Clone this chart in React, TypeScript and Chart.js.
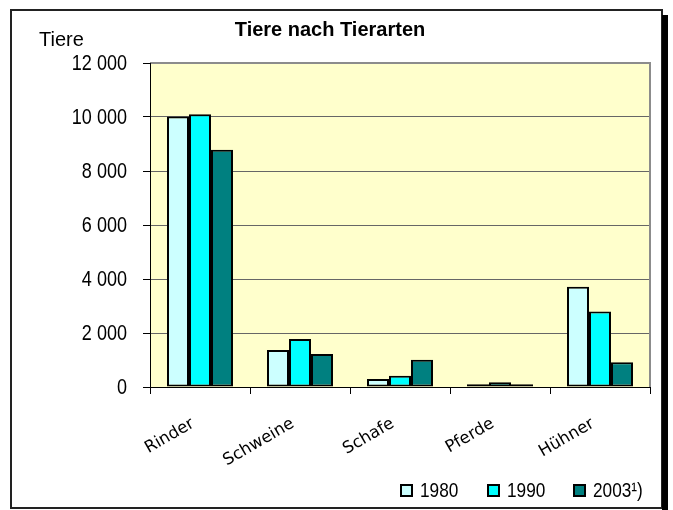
import React, { useEffect, useRef } from "react";
import { Chart, registerables } from "chart.js";

Chart.register(...registerables);

const categories = ["Rinder", "Schweine", "Schafe", "Pferde", "Hühner"];
const seriesLabels = ["1980", "1990", "2003¹)"];
const values1980 = [10020, 1370, 300, 100, 3710];
const values1990 = [10100, 1780, 420, 175, 2800];
const values2003 = [8790, 1220, 1010, 100, 920];
const seriesColors = ["#CCFFFF", "#00FFFF", "#008080"];
const yTicks = [0, 2000, 4000, 6000, 8000, 10000, 12000];
const titleText = "Tiere nach Tierarten";
const yUnitText = "Tiere";

const SANS = "'Liberation Sans', Arial, sans-serif";

function fmt(v: number) {
  return String(v).replace(/\B(?=(\d{3})+(?!\d))/g, " ");
}

function drawNarrow(ctx: CanvasRenderingContext2D, text: string, x: number, y: number, align: CanvasTextAlign) {
  ctx.save();
  ctx.translate(x, y);
  ctx.scale(0.82, 1);
  ctx.textAlign = align;
  ctx.fillText(text, 0, 0);
  ctx.restore();
}

const decorPlugin = {
  id: "decor",
  beforeDraw(chart: any) {
    const { ctx, chartArea } = chart;
    ctx.save();
    ctx.fillStyle = "#ffffff";
    ctx.fillRect(0, 0, chart.width, chart.height);
    ctx.fillStyle = "#FFFFCC";
    ctx.fillRect(chartArea.left, chartArea.top, chartArea.right - chartArea.left, chartArea.bottom - chartArea.top);
    ctx.restore();
  },
  afterDatasetsDraw(chart: any) {
    const { ctx, chartArea } = chart;
    ctx.save();
    ctx.strokeStyle = "#8c8c8c";
    ctx.lineWidth = 2;
    ctx.beginPath();
    ctx.moveTo(chartArea.left, chartArea.top);
    ctx.lineTo(chartArea.right, chartArea.top);
    ctx.lineTo(chartArea.right, chartArea.bottom);
    ctx.stroke();
    ctx.strokeStyle = "#000";
    ctx.lineWidth = 1;
    ctx.beginPath();
    ctx.moveTo(chartArea.left + 0.5, chartArea.top);
    ctx.lineTo(chartArea.left + 0.5, chartArea.bottom);
    ctx.moveTo(chartArea.left, chartArea.bottom + 0.5);
    ctx.lineTo(chartArea.right, chartArea.bottom + 0.5);
    ctx.stroke();
    ctx.restore();
  },
  afterDraw(chart: any) {
    const { ctx } = chart;
    const yScale = chart.scales.y;
    ctx.save();
    // outer frame
    ctx.strokeStyle = "#222";
    ctx.lineWidth = 2;
    ctx.strokeRect(11, 10, 651, 498);
    ctx.fillStyle = "#000";
    ctx.fillRect(662, 15, 6, 495);
    // title
    ctx.fillStyle = "#000";
    ctx.textAlign = "center";
    ctx.textBaseline = "middle";
    ctx.font = "bold 20px " + SANS;
    ctx.fillText(titleText, 330, 30);
    // unit
    ctx.textAlign = "left";
    ctx.font = "20px " + SANS;
    ctx.fillText(yUnitText, 39, 40);
    // y tick labels (narrow)
    ctx.font = "22px " + SANS;
    ctx.textBaseline = "middle";
    yTicks.forEach((v) => {
      drawNarrow(ctx, fmt(v), 127, yScale.getPixelForValue(v) + 1, "right");
    });
    // legend
    const boxX = [400, 487, 573];
    chart.data.datasets.forEach((ds: any, i: number) => {
      const x = boxX[i];
      ctx.fillStyle = ds.backgroundColor;
      ctx.fillRect(x, 484, 13, 13);
      ctx.strokeStyle = "#000";
      ctx.lineWidth = 2;
      ctx.strokeRect(x + 1, 485, 11, 11);
      ctx.fillStyle = "#000";
      ctx.textBaseline = "middle";
      ctx.font = "21px " + SANS;
      drawNarrow(ctx, ds.label, x + 20, 491, "left");
    });
    ctx.restore();
  },
};

export default function App() {
  const ref = useRef<HTMLCanvasElement | null>(null);
  useEffect(() => {
    if (!ref.current) return;
    const chart = new Chart(ref.current, {
      type: "bar",
      data: {
        labels: categories,
        datasets: [values1980, values1990, values2003].map((d, i) => ({
          label: seriesLabels[i],
          data: d,
          backgroundColor: seriesColors[i],
          borderColor: "#000",
          borderWidth: 2,
          borderSkipped: false,
          barPercentage: 1,
          categoryPercentage: 0.66,
        })),
      },
      options: {
        responsive: false,
        animation: false,
        devicePixelRatio: 1,
        layout: { padding: { top: 63, right: 23, left: 0, bottom: 0 } },
        plugins: {
          legend: { display: false },
          title: { display: false },
          tooltip: { enabled: false },
        },
        scales: {
          x: {
            afterFit: (s: any) => { s.height = 123; },
            border: { display: false },
            grid: {
              offset: true,
              drawOnChartArea: false,
              drawTicks: true,
              tickLength: 7,
              tickColor: "#000",
            },
            ticks: {
              autoSkip: false,
              maxRotation: 30,
              minRotation: 30,
              padding: 20,
              labelOffset: -7,
              color: "#000",
              font: { family: "'DejaVu Sans', Verdana, sans-serif", size: 16.5 },
            },
          },
          y: {
            min: 0,
            max: 12000,
            afterFit: (s: any) => { s.width = 150; },
            afterBuildTicks: (s: any) => { s.ticks = yTicks.map((v) => ({ value: v })); },
            border: { display: false },
            grid: {
              color: "#666",
              lineWidth: 1,
              tickLength: 7,
              tickColor: "#000",
            },
            ticks: {
              padding: 16,
              color: "rgba(0,0,0,0)",
              font: { family: SANS, size: 20 },
              callback: (v: any) => fmt(Number(v)),
            },
          },
        },
      },
      plugins: [decorPlugin],
    });
    return () => chart.destroy();
  }, []);
  return (
    <div style={{ position: "fixed", left: 0, top: 0, width: 673, height: 510 }}>
      <canvas ref={ref} width={673} height={510} style={{ display: "block" }} />
    </div>
  );
}
